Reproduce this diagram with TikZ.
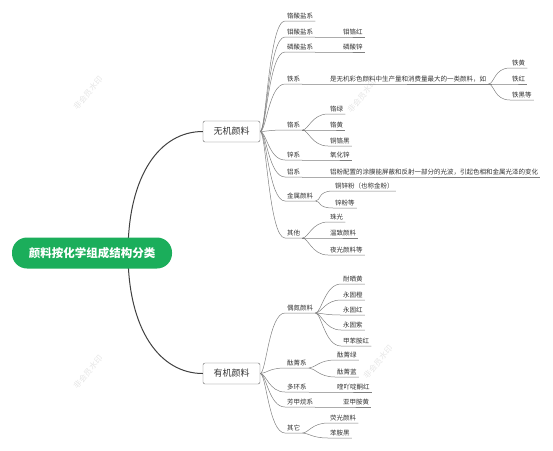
\documentclass[tikz,border=0pt]{standalone}
\usepackage{fontspec}
\setmainfont{Noto Sans CJK SC}
\definecolor{rootgreen}{HTML}{1BAE5B}
\definecolor{ink}{HTML}{333333}
\tikzset{
  root/.style={fill=rootgreen, text=white, rounded corners=15pt, minimum width=160pt, minimum height=31pt, inner sep=0pt, font=\bfseries\fontsize{11.5}{12}\selectfont},
  topic/.style={draw=black!60, fill=white, rounded corners=2pt, minimum width=57pt, minimum height=21pt, inner sep=0pt, text=ink, font=\fontsize{9}{10}\selectfont},
  lbl/.style={anchor=south west, inner xsep=2pt, inner ysep=1.5pt, text=ink, font=\fontsize{6.5}{7}\selectfont},
  wm/.style={rotate=50, text=black!10, font=\fontsize{8}{9}\selectfont},
  trunk/.style={draw=black!75, line width=1pt},
  lk/.style={draw=black!50, line width=0.5pt},
  fan/.style={out=0, in=180, out distance=6pt, in distance=16pt},
}
\begin{document}
\begin{tikzpicture}[x=1pt, y=-1pt]
  \useasboundingbox (0,0) rectangle (553,450);
  % watermarks
  \foreach \x/\y [count=\i] in {88/93, 362/96, 88/372, 378/362}
    \node[wm] (wm\i) at (\x,\y) {非会员水印};
  % main topics
  \node[topic] (wj) at (231.5,131.5) {无机颜料};
  \node[topic] (yj) at (231.5,373.5) {有机颜料};
  \coordinate (hub) at (128,253);
  \draw[trunk] (hub) .. controls (128,175) and (160,131.5) .. (wj.west);
  \draw[trunk] (hub) .. controls (128,330) and (160,373.5) .. (yj.west);
  \node[root] (root) at (92,253) {颜料按化学组成结构分类};
  % inorganic
  \foreach \n/\y/\t in {a1/21/铬酸盐系, a2/37/钼酸盐系, a3/52/磷酸盐系, a4/84/铁系, a5/130/铬系, a6/160/锌系, a7/177/铝系, a8/201/金属颜料, a9/238/其他} {
    \node[lbl] (\n) at (285,\y) {\t};
    \draw[lk] (wj.east) to[fan] (\n.south west) -- (\n.south east);
  }
  \node[lbl] (a2x) at (341,37) {钼铬红};
  \node[lbl] (a3x) at (341,52) {磷酸锌};
  \node[lbl] (a4x) at (328,84) {是无机彩色颜料中生产量和消费量最大的一类颜料，如};
  \node[lbl] (a6x) at (328,160) {氧化锌};
  \node[lbl] (a7x) at (328,177) {铝粉配置的涂膜能屏蔽和反射一部分的光波，引起色相和金属光泽的变化};
  \foreach \n in {a2, a3, a4, a6, a7}
    \draw[lk] (\n.south east) -- (\n x.south west) -- (\n x.south east);
  \foreach \n/\y/\t in {a4a/68/铁黄, a4b/84/铁红, a4c/100/铁黑等} {
    \node[lbl] (\n) at (510,\y) {\t};
    \draw[lk] (a4x.south east) to[fan] (\n.south west) -- (\n.south east);
  }
  \foreach \n/\y/\t in {a5a/114/铬绿, a5b/130/铬黄, a5c/146/铜铬黑} {
    \node[lbl] (\n) at (328,\y) {\t};
    \draw[lk] (a5.south east) to[fan] (\n.south west) -- (\n.south east);
  }
  \foreach \n/\y/\t in {a8a/191/铜锌粉（也称金粉）, a8b/208/锌粉等} {
    \node[lbl] (\n) at (333,\y) {\t};
    \draw[lk] (a8.south east) to[fan] (\n.south west) -- (\n.south east);
  }
  \foreach \n/\y/\t in {a9a/222/珠光, a9b/238/温致颜料, a9c/255/夜光颜料等} {
    \node[lbl] (\n) at (328,\y) {\t};
    \draw[lk] (a9.south east) to[fan] (\n.south west) -- (\n.south east);
  }
  % organic
  \foreach \n/\y/\t in {b1/313/偶氮颜料, b2/368/酞菁系, b3/392/多环系, b4/407/芳甲烷系, b5/433/其它} {
    \node[lbl] (\n) at (285,\y) {\t};
    \draw[lk] (yj.east) to[fan] (\n.south west) -- (\n.south east);
  }
  \foreach \n/\y/\t in {b1a/284/耐晒黄, b1b/300/永固橙, b1c/315/永固红, b1d/330/永固紫, b1e/346/甲苯胺红} {
    \node[lbl] (\n) at (341,\y) {\t};
    \draw[lk] (b1.south east) to[fan] (\n.south west) -- (\n.south east);
  }
  \foreach \n/\y/\t in {b2a/360/酞菁绿, b2b/377/酞菁蓝} {
    \node[lbl] (\n) at (335,\y) {\t};
    \draw[lk] (b2.south east) to[fan] (\n.south west) -- (\n.south east);
  }
  \node[lbl] (b3x) at (335,392) {喹吖啶酮红};
  \node[lbl] (b4x) at (341,407) {亚甲胺黄};
  \foreach \n in {b3, b4}
    \draw[lk] (\n.south east) -- (\n x.south west) -- (\n x.south east);
  \foreach \n/\y/\t in {b5a/423/荧光颜料, b5b/438/苯胺黑} {
    \node[lbl] (\n) at (328,\y) {\t};
    \draw[lk] (b5.south east) to[fan] (\n.south west) -- (\n.south east);
  }
\end{tikzpicture}
\end{document}
